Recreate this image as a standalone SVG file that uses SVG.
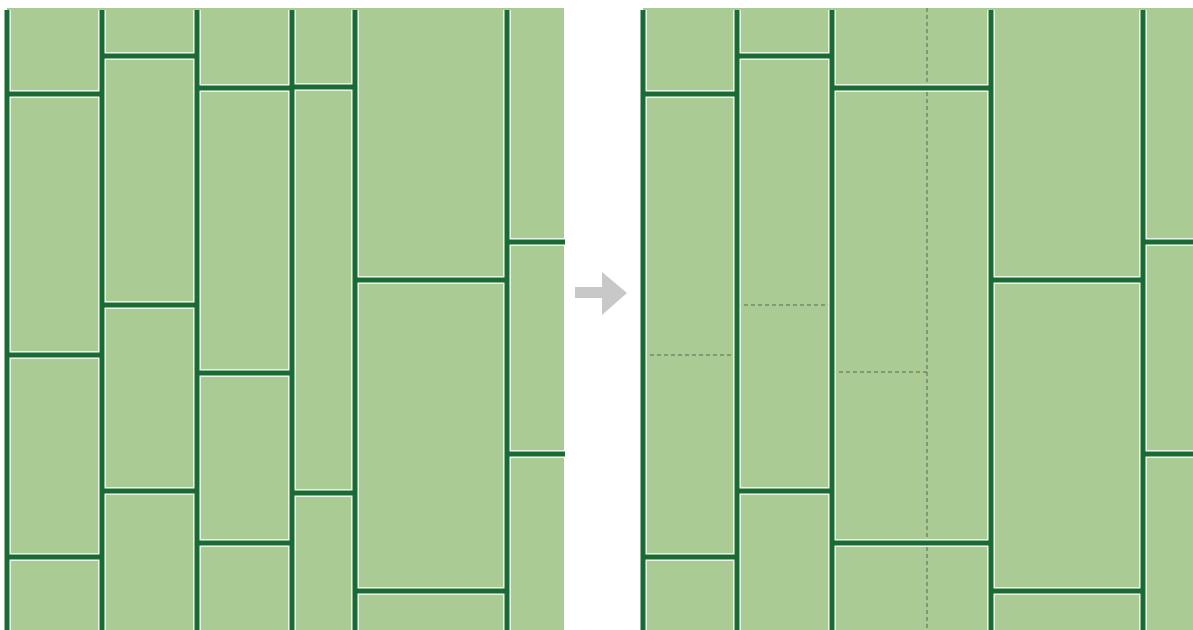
<svg xmlns="http://www.w3.org/2000/svg" width="1193" height="630" viewBox="0 0 1193 630">
<style>
.bg{fill:#abcb95}
.halo{stroke:#ffffff;stroke-width:7.5;fill:none}
.ln{stroke:#1a6b33;stroke-width:5;fill:none;stroke-linecap:butt}
.dash{stroke:#556b50;stroke-width:1;stroke-dasharray:4 3;fill:none}
</style>
<rect width="1193" height="630" fill="#ffffff"/>
<g id="panel-left">
<rect class="bg" x="7" y="8" width="557" height="622"/>
<g id="left-halo" class="halo">
<path d="M7 10V630M102 10V630M197 10V630M292 10V630M355 10V630M507 10V630"/>
<path d="M7 94H102M7 355H102M7 557H102M102 56H197M102 305H197M102 491H197M197 88H292M197 373H292M197 543H292M292 87H355M292 493H355M355 280H507M355 591H507M507 242H565M507 454H565"/>
</g>
<g id="left-lines" class="ln">
<path d="M7 10V630M102 10V630M197 10V630M292 10V630M355 10V630M507 10V630"/>
<path d="M7 94H102M7 355H102M7 557H102M102 56H197M102 305H197M102 491H197M197 88H292M197 373H292M197 543H292M292 87H355M292 493H355M355 280H507M355 591H507M507 242H565M507 454H565"/>
</g>
</g>
<g id="arrow">
<polygon points="575,287 602,287 602,272 627,293 602,315 602,298 575,298" fill="#c8c8c8"/>
</g>
<g id="panel-right">
<rect class="bg" x="643" y="8" width="550" height="622"/>
<g id="right-dashes" class="dash">
<path d="M927 8V630M643 355H737M737 305H832M832 372H927"/>
</g>
<g id="right-halo" class="halo">
<path d="M643 10V630M737 10V630M832 10V630M991 10V630M1143 10V630"/>
<path d="M643 94H737M643 557H737M737 56H832M737 491H832M832 88H991M832 543H991M991 280H1143M991 591H1143M1143 242H1193M1143 454H1193"/>
</g>
<g id="right-lines" class="ln">
<path d="M643 10V630M737 10V630M832 10V630M991 10V630M1143 10V630"/>
<path d="M643 94H737M643 557H737M737 56H832M737 491H832M832 88H991M832 543H991M991 280H1143M991 591H1143M1143 242H1193M1143 454H1193"/>
</g>
</g>
</svg>
